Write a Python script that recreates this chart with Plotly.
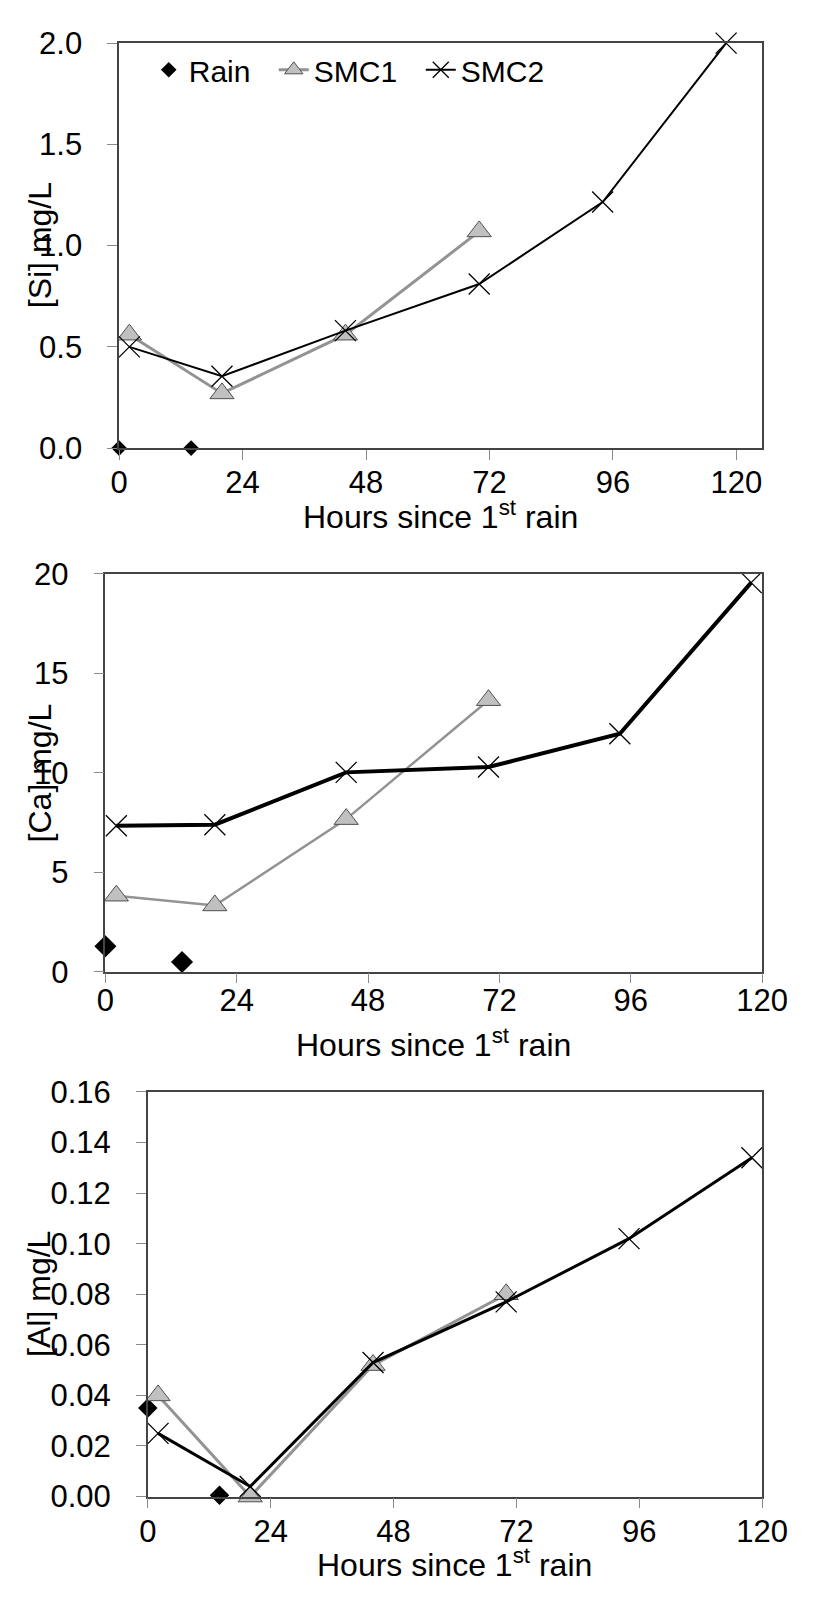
import plotly.graph_objects as go

# ---------------- data ----------------
hours_rain = [0, 14]
hours_smc1 = [2, 20, 44, 70]
hours_smc2 = [2, 20, 44, 70, 94, 118]

si_rain = [0.0, 0.0]
si_smc1 = [0.56, 0.27, 0.56, 1.07]
si_smc2 = [0.50, 0.355, 0.58, 0.81, 1.215, 2.0]

ca_rain = [1.28, 0.49]
ca_smc1 = [3.82, 3.33, 7.67, 13.65]
ca_smc2 = [7.34, 7.39, 10.02, 10.29, 11.96, 19.56]

al_rain = [0.035, 0.0005]
al_smc1 = [0.040, 0.0, 0.052, 0.080]
al_smc2 = [0.025, 0.004, 0.053, 0.077, 0.102, 0.134]

x_ticks = [0, 24, 48, 72, 96, 120]
x_title = "Hours since 1<sup>st</sup> rain"
y_titles = ["[Si] mg/L", "[Ca] mg/L", "[Al] mg/L"]

W, H = 820, 1602
FONT = "Arial, Liberation Sans, sans-serif"
GRAY_LINE = "#939393"
GRAY_FILL = "#c0c0c0"

panels = [
    dict(rain=si_rain, s1=si_smc1, s2=si_smc2, left=115, top=26.7, bottom=440.7,
         xmax=125, yr=[0, 2.0], dt=0.5, fmt=".1f", w1=3, w2=2, dsize=12,
         xstand=-4, xtitle_y=509),
    dict(rain=ca_rain, s1=ca_smc1, s2=ca_smc2, left=100.7, top=569.3, bottom=976,
         xmax=120, yr=[0, 20], dt=5, fmt="d", w1=2.5, w2=4, dsize=17,
         xstand=-10, xtitle_y=1049),
    dict(rain=al_rain, s1=al_smc1, s2=al_smc2, left=145, top=1099, bottom=1512.6,
         xmax=120, yr=[0, 0.16], dt=0.02, fmt=".2f", w1=3, w2=3, dsize=15,
         xstand=-4, xtitle_y=1581),
]
RIGHT = 786.7

fig = go.Figure()
annotations = []
for i, p in enumerate(panels):
    n = "" if i == 0 else str(i + 1)
    xa, ya = "x" + n, "y" + n
    first = i == 0
    fig.add_trace(go.Scatter(
        x=hours_rain, y=p["rain"], name="Rain", mode="markers",
        marker=dict(symbol="diamond", size=p["dsize"], color="black"),
        xaxis=xa, yaxis=ya, showlegend=first, cliponaxis=False, legendwidth=80))
    fig.add_trace(go.Scatter(
        x=hours_smc1, y=p["s1"], name="SMC1", mode="lines+markers",
        line=dict(color=GRAY_LINE, width=p["w1"]),
        marker=dict(symbol="triangle-up", size=21, color=GRAY_FILL,
                    line=dict(color="#505050", width=1)),
        xaxis=xa, yaxis=ya, showlegend=first, cliponaxis=False, legendwidth=102))
    fig.add_trace(go.Scatter(
        x=hours_smc2, y=p["s2"], name="SMC2", mode="lines+markers",
        line=dict(color="black", width=p["w2"]),
        marker=dict(symbol="x-thin-open", size=21, color="black",
                    line=dict(color="#202020", width=1.3)),
        xaxis=xa, yaxis=ya, showlegend=first, cliponaxis=False))

    axis_common = dict(showgrid=False, zeroline=False, showline=True,
                       linecolor="#444444", linewidth=1.5, mirror=True,
                       ticks="outside", ticklen=10, tickcolor="#8a8a8a",
                       tickwidth=1.2,
                       tickfont=dict(family=FONT, size=31, color="black"))
    xdom = [p["left"] / W, RIGHT / W]
    ydom = [1 - p["bottom"] / H, 1 - p["top"] / H]
    fig.layout["xaxis" + n] = dict(
        axis_common, domain=xdom, anchor=ya, range=[0, p["xmax"]],
        tickvals=x_ticks, ticklabelstandoff=p["xstand"])
    fig.layout["yaxis" + n] = dict(
        axis_common, domain=ydom, anchor=xa, range=p["yr"], dtick=p["dt"],
        tick0=0, tickformat=p["fmt"], ticklabelstandoff=19)
    annotations.append(dict(
        text=y_titles[i], xref="paper", yref="paper", x=32 / W,
        y=1 - (p["top"] + p["bottom"]) / 2 / H, xanchor="center",
        yanchor="middle", textangle=-90, showarrow=False,
        font=dict(family=FONT, size=32, color="black")))
    annotations.append(dict(
        text=x_title, xref="paper", yref="paper",
        x=(p["left"] + RIGHT) / 2 / W, y=1 - p["xtitle_y"] / H,
        xanchor="center", yanchor="middle", showarrow=False,
        font=dict(family=FONT, size=32, color="black")))

fig.update_layout(
    width=W, height=H, margin=dict(l=0, r=0, t=0, b=0),
    paper_bgcolor="white", plot_bgcolor="white",
    font=dict(family=FONT, color="black"),
    annotations=annotations,
    legend=dict(orientation="h", x=146 / W, y=1 - 54 / H, xanchor="left",
                yanchor="middle", bgcolor="rgba(0,0,0,0)",
                font=dict(family=FONT, size=30, color="black"),
                itemsizing="trace"),
)

fig.write_html("out.html")
